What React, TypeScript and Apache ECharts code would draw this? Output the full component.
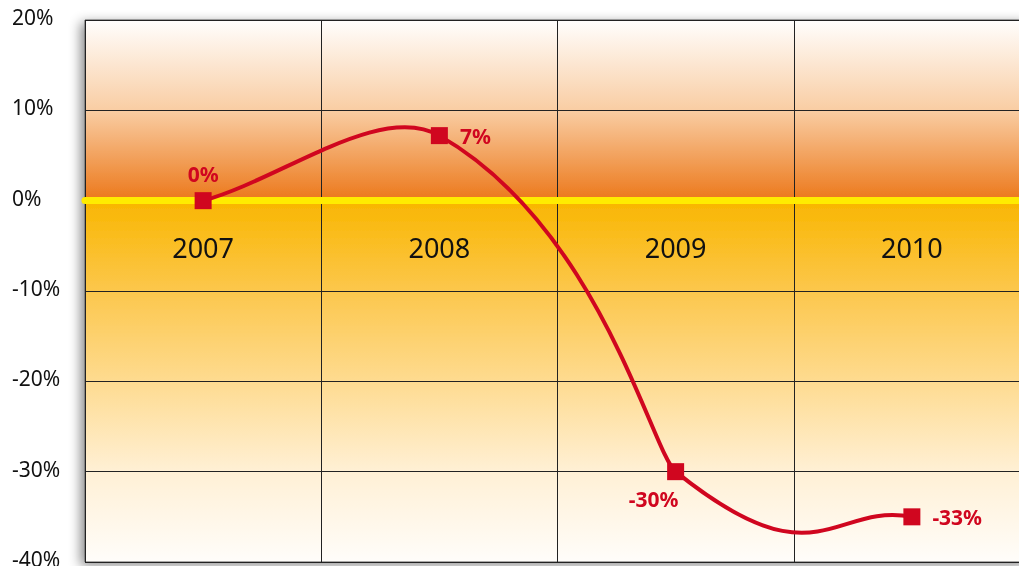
import React, { useEffect, useRef } from "react";
import * as echarts from "echarts";

const years = ["2007", "2008", "2009", "2010"];
const values = [0, 7.2, -30, -35];
const pointLabels = ["0%", "7%", "-30%", "-33%"];
const labelPositions = ["top", "right", "bottom", "right"];
const yTicks = { min: -40, max: 20, interval: 10 };

// curve shape (handle lengths as fraction of the neighbour-to-neighbour vector)
const outHandle = [1 / 3, 0.34, 0.3];
const inHandle = [0.125, 0.05, 1 / 3];

export default function App() {
  const ref = useRef<HTMLDivElement>(null);
  useEffect(() => {
    if (!ref.current) return;
    const chart = echarts.init(ref.current, null, { renderer: "svg" });
    const red = "#d0061f";
    const bg = new echarts.graphic.LinearGradient(0, 0, 0, 1, [
      { offset: 0, color: "#fffefd" },
      { offset: 0.1667, color: "#f9cda3" },
      { offset: 0.333, color: "#ec781a" },
      { offset: 0.3334, color: "#f9b600" },
      { offset: 0.5, color: "#fcc74c" },
      { offset: 0.6667, color: "#fedb90" },
      { offset: 0.8333, color: "#fff0d5" },
      { offset: 1, color: "#fffdfa" },
    ]);
    chart.setOption({
      animation: false,
      grid: {
        left: 85,
        top: 20,
        width: 945,
        height: 542,
        outerBoundsMode: "none",
        containLabel: false,
        show: true,
        backgroundColor: bg,
        borderColor: "#555",
        borderWidth: 1,
        shadowBlur: 12,
        shadowColor: "rgba(0,0,0,0.45)",
        shadowOffsetX: -4,
        shadowOffsetY: 3,
      },
      xAxis: [
        {
          type: "category",
          data: years,
          boundaryGap: true,
          z: 1,
          axisLine: { onZero: true, lineStyle: { color: "#ffec00", width: 7 } },
          axisTick: { show: false },
          axisLabel: { show: false },
          splitLine: { show: true, lineStyle: { color: "#222", width: 1 } },
        },
        {
          type: "category",
          data: years,
          boundaryGap: true,
          position: "bottom",
          offset: -336,
          axisLine: { show: false },
          axisTick: { show: false },
          splitLine: { show: false },
          axisLabel: {
            margin: 8,
            fontSize: 27,
            color: "#111",
            fontFamily: "Noto Sans",
          },
        },
      ],
      yAxis: {
        type: "value",
        min: yTicks.min,
        max: yTicks.max,
        interval: yTicks.interval,
        axisLine: { show: false },
        axisTick: { show: false },
        axisLabel: {
          formatter: "{value}%",
          align: "left",
          verticalAlign: "bottom",
          lineHeight: 6,
          margin: 73,
          fontSize: 21,
          color: "#111",
          fontFamily: "Noto Sans",
        },
        splitLine: { lineStyle: { color: "#222", width: 1 } },
      },
      series: [
        {
          type: "custom",
          xAxisIndex: 0,
          z: 3,
          data: values.map((v, i) => [i, v]),
          renderItem: (params: any, api: any) => {
            if (params.dataIndex !== 0) return null;
            const p = values.map((v, i) => api.coord([i, v]));
            const n = p.length;
            const tan = (i: number) => {
              const a = p[Math.max(i - 1, 0)];
              const b = p[Math.min(i + 1, n - 1)];
              return [b[0] - a[0], b[1] - a[1]];
            };
            let d = `M${p[0][0]},${p[0][1]}`;
            for (let i = 0; i < n - 1; i++) {
              const t1 = tan(i);
              const t2 = tan(i + 1);
              const c1x = p[i][0] + t1[0] * outHandle[i];
              const c1y = p[i][1] + t1[1] * outHandle[i];
              const c2x = p[i + 1][0] - t2[0] * inHandle[i];
              const c2y = p[i + 1][1] - t2[1] * inHandle[i];
              d += ` C${c1x},${c1y} ${c2x},${c2y} ${p[i + 1][0]},${p[i + 1][1]}`;
            }
            return {
              type: "path",
              shape: { pathData: d },
              style: { fill: "none", stroke: red, lineWidth: 4 },
            };
          },
        },
        {
          type: "scatter",
          xAxisIndex: 0,
          z: 4,
          symbol: "rect",
          symbolSize: 17,
          itemStyle: { color: red, opacity: 1 },
          data: values.map((v, i) => ({
            value: [i, v],
            label: {
              show: true,
              position: labelPositions[i],
              formatter: pointLabels[i],
              distance: i === 1 || i === 3 ? 12 : 8,
              offset: i === 2 ? [-22, 0] : [0, 0],
            },
          })),
          label: {
            color: red,
            fontSize: 21,
            fontWeight: "bold",
            fontFamily: "Noto Sans",
          },
        },
      ],
    });
    return () => chart.dispose();
  }, []);
  return (
    <div
      ref={ref}
      style={{ position: "fixed", left: 0, top: 0, width: 1019, height: 566 }}
    />
  );
}
